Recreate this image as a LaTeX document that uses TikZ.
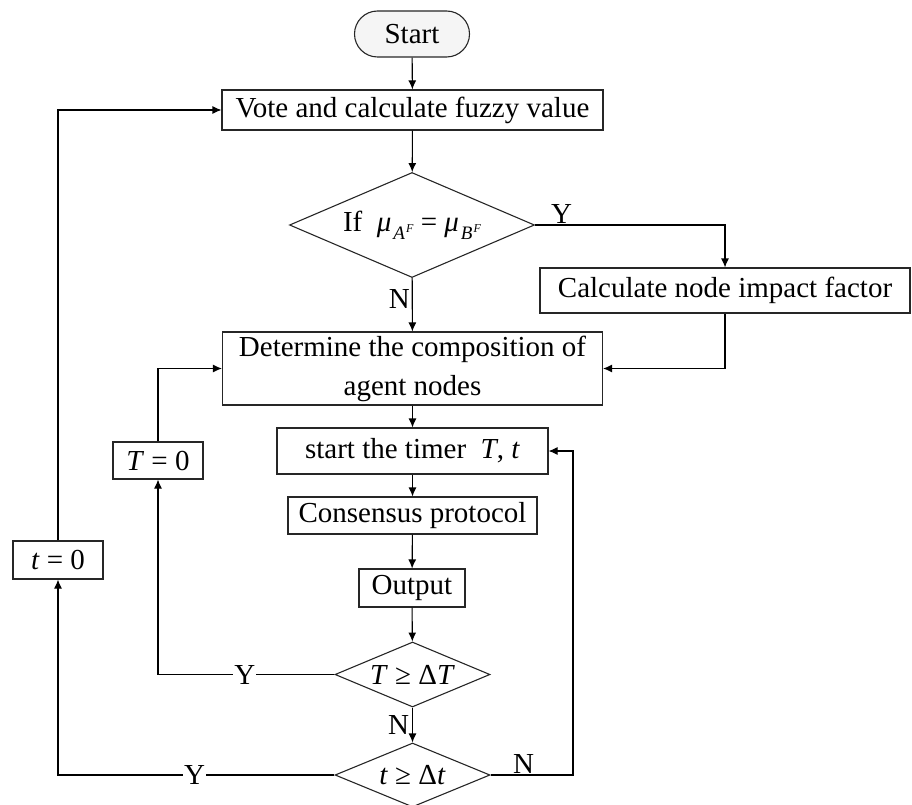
\documentclass[tikz,border=0pt]{standalone}
\usepackage{fontspec}
\setmainfont{Liberation Serif}
\usetikzlibrary{arrows.meta,shapes.geometric}
\newcommand\musub[1]{\textit{μ}\kern2pt\raisebox{-8pt}{\fontsize{19}{19}\selectfont\textit{#1}\kern1pt\raisebox{7pt}{\fontsize{12}{12}\selectfont\textit{F}}}}
\begin{document}
\begin{tikzpicture}[x=1pt,y=-1pt,
  font=\fontsize{29}{39}\selectfont,
  box/.style={draw=black!85, line width=1.1pt, rectangle, inner sep=0pt},
  dia/.style={draw=black!85, line width=1.1pt, diamond, inner sep=0pt},
  arr/.style={draw=black, line width=1.1pt, -{Latex[length=9pt,width=8pt]}},
  ylab/.style={fill=white, inner sep=1pt}]
\useasboundingbox (0,0) rectangle (912,805);
\node[box, minimum width=115, minimum height=46, rounded corners=23, fill=gray!8] (start) at (412,34) {Start};
\node[box, minimum width=381, minimum height=40] (vote) at (412.5,110) {Vote and calculate fuzzy value};
\node[dia, minimum width=245, minimum height=105, label=center:{If\ \ \musub{A} = \musub{B}}] (d1) at (412,225) {};
\node[box, minimum width=370, minimum height=45] (calc) at (725,290.5) {Calculate node impact factor};
\node[box, minimum width=380, minimum height=73, align=center] (det) at (412.5,368.5) {Determine the composition of\\agent nodes};
\node[box, minimum width=271, minimum height=46] (timer) at (412.5,451) {start the timer\ \ \textit{T}, \textit{t}};
\node[box, minimum width=249, minimum height=37] (cons) at (412.5,515.5) {Consensus protocol};
\node[box, minimum width=106, minimum height=38] (out) at (412,588) {Output};
\node[dia, minimum width=155, minimum height=65, label=center:{\textit{T} ≥ Δ\textit{T}}] (d2) at (412.5,674.5) {};
\node[dia, minimum width=155, minimum height=64, label=center:{\textit{t} ≥ Δ\textit{t}}] (d3) at (412.5,775) {};
\node[box, minimum width=90, minimum height=37] (T0) at (158,460.5) {\textit{T} = 0};
\node[box, minimum width=90, minimum height=38] (t0) at (58,560) {\textit{t} = 0};
\coordinate (rt) at (573,775);

\draw[arr] (start) -- (vote);
\draw[arr] (vote) -- (d1);
\draw[arr] (d1) -- node[left, pos=0.4, inner sep=2pt]{N} (det);
\draw[arr] (d1.east) -| node[above, pos=0.07, inner sep=1pt]{Y} (calc.north);
\draw[arr] (calc.south) |- (det.east);
\draw[arr] (det) -- (timer);
\draw[arr] (timer) -- (cons);
\draw[arr] (cons) -- (out);
\draw[arr] (out) -- (d2);
\draw[arr] (d2) -- node[left, inner sep=3pt]{N} (d3);
\draw[arr] (d2.west) -| node[ylab, pos=0.254]{Y} (T0.south);
\draw[arr] (T0.north) |- (det.west);
\draw[arr] (d3.west) -| node[ylab, pos=0.253]{Y} (t0.south);
\draw[arr] (t0.north) |- (vote.west);
\draw[arr] (d3.east) -- node[above, pos=0.4, inner sep=1pt]{N} (rt) |- (timer.east);
\end{tikzpicture}
\end{document}
